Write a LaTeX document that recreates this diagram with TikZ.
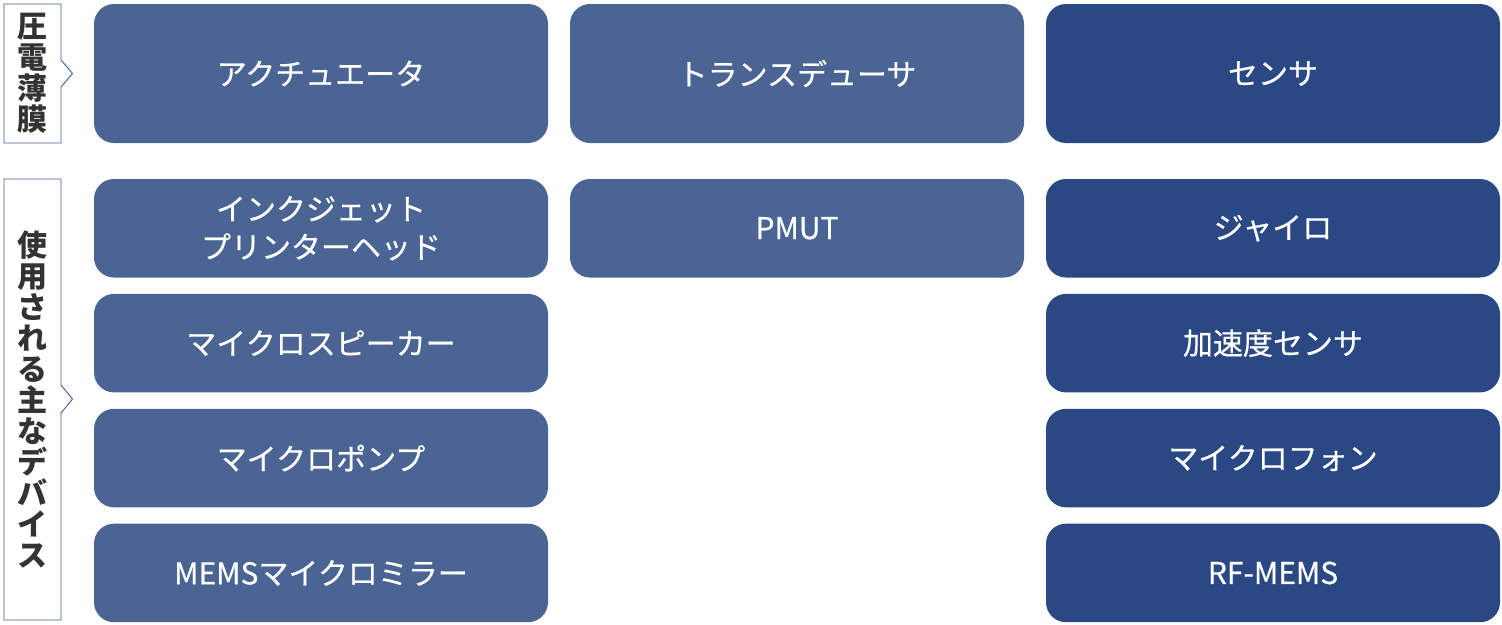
\documentclass[tikz,border=0pt]{standalone}
\usepackage{fontspec}
\setmainfont{Noto Sans CJK JP}
\newfontfamily\boxfont[FakeBold=0.5]{Noto Sans CJK JP}
\usetikzlibrary{positioning}

\definecolor{boxlight}{HTML}{4A6494}
\definecolor{boxdark}{HTML}{2A4883}
\definecolor{labelline}{HTML}{3E5C98}
\definecolor{labeltext}{HTML}{333333}

\tikzset{
	devicebox/.style={rectangle,rounded corners=20pt,inner sep=0pt,
		minimum width=454pt,minimum height=98.5pt,text=white,align=center,
		font=\boxfont\fontsize{30}{38}\selectfont},
	headbox/.style={devicebox,minimum height=139pt},
	labelbox/.style={draw=labelline,line width=0.9pt,fill=white},
	labelchars/.style={text=labeltext,align=center,inner sep=0pt,
		font=\bfseries\fontsize{30}{31}\selectfont}
}

\begin{document}
\begin{tikzpicture}[x=1pt,y=-1pt]
		\useasboundingbox (0,0) rectangle (1502,624);

		% left labels with notch
		\coordinate (A) at (4,4);
		\coordinate (B) at (61,4);
		\coordinate (C) at (61,60);
		\coordinate (D) at (72.5,73.5);
		\coordinate (E) at (61,87);
		\coordinate (F) at (61,143);
		\coordinate (G) at (4,143);
		\draw[labelbox] (A) -- (B) -- (C) -- (D) -- (E) -- (F) -- (G) -- cycle;
		\node[labelchars] (piezo) at (32.5,73.5) {圧\\電\\薄\\膜};

		\coordinate (H) at (4,179);
		\coordinate (I) at (61,179);
		\coordinate (J) at (61,385);
		\coordinate (K) at (72.5,399);
		\coordinate (L) at (61,413);
		\coordinate (M) at (61,620);
		\coordinate (N) at (4,620);
		\draw[labelbox] (H) -- (I) -- (J) -- (K) -- (L) -- (M) -- (N) -- cycle;
		\node[labelchars] (devices) at (32.5,399)
			{使\\用\\さ\\れ\\る\\主\\な\\デ\\バ\\イ\\ス};

		% header row
		\node[headbox,fill=boxlight] (actuator) at (321,73.5) {アクチュエータ};
		\node[headbox,fill=boxlight] (transducer) at (797,73.5) {トランスデューサ};
		\node[headbox,fill=boxdark] (sensor) at (1273,73.5) {センサ};

		% actuator devices
		\node[devicebox,fill=boxlight] (inkjet) at (321,228.25) {インクジェット\\プリンターヘッド};
		\node[devicebox,fill=boxlight,below=16pt of inkjet] (speaker) {マイクロスピーカー};
		\node[devicebox,fill=boxlight,below=16pt of speaker] (pump) {マイクロポンプ};
		\node[devicebox,fill=boxlight,below=16pt of pump] (mirror) {MEMSマイクロミラー};

		% transducer devices
		\node[devicebox,fill=boxlight] (pmut) at (797,228.25) {PMUT};

		% sensor devices
		\node[devicebox,fill=boxdark] (gyro) at (1273,228.25) {ジャイロ};
		\node[devicebox,fill=boxdark,below=16pt of gyro] (accel) {加速度センサ};
		\node[devicebox,fill=boxdark,below=16pt of accel] (mic) {マイクロフォン};
		\node[devicebox,fill=boxdark,below=16pt of mic] (rfmems) {RF-MEMS};
	\end{tikzpicture}
\end{document}
